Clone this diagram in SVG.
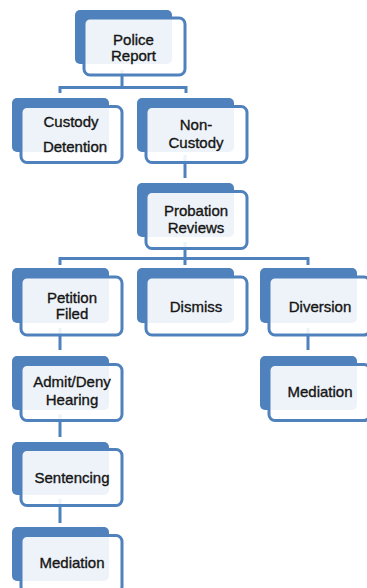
<svg xmlns="http://www.w3.org/2000/svg" width="367" height="588" viewBox="0 0 367 588">
<style>
.back{fill:#4f81bd}
.front{fill:#fff;fill-opacity:0.9;stroke:#4f81bd;stroke-width:3}
.conn{fill:none;stroke:#4f81bd;stroke-width:3}
text{font-family:"Liberation Sans",Arial,sans-serif;font-size:15px;fill:#151515;stroke:#151515;stroke-width:0.35;text-anchor:middle}
</style>
<rect width="367" height="588" fill="#fff"/>
<g id="connectors" class="conn">
<path d="M122,70 V87.5 M60,87.5 H187 M60,86 V93 M186,86 V93"/>
<path d="M185,155 V178"/>
<path d="M185,242 V258.5 M59,258.5 H309 M60,257 V265 M185,257 V265 M308,257 V265"/>
<path d="M60,328 V350"/>
<path d="M308,328 V350"/>
<path d="M60,414 V437"/>
<path d="M60,499 V523"/>
</g>
<g id="police-report">
<rect class="back" x="75" y="10" width="97" height="54" rx="5"/>
<rect class="front" x="84" y="18" width="101" height="57" rx="6"/>
<text x="133.5" y="45">Police</text><text x="133.5" y="61">Report</text>
</g>
<g id="custody-detention">
<rect class="back" x="12" y="98" width="97" height="54" rx="5"/>
<rect class="front" x="21" y="106.5" width="101" height="56" rx="6"/>
<text x="71" y="127">Custody</text><text x="75" y="152">Detention</text>
</g>
<g id="non-custody">
<rect class="back" x="137" y="98" width="97" height="54" rx="5"/>
<rect class="front" x="146" y="106.5" width="101" height="56" rx="6"/>
<text x="196" y="130">Non-</text><text x="196" y="148">Custody</text>
</g>
<g id="probation-reviews">
<rect class="back" x="137" y="183" width="97" height="54" rx="5"/>
<rect class="front" x="146" y="191.5" width="101" height="57" rx="6"/>
<text x="196" y="216">Probation</text><text x="196" y="233">Reviews</text>
</g>
<g id="petition-filed">
<rect class="back" x="12" y="268" width="97" height="55" rx="5"/>
<rect class="front" x="21" y="277" width="101" height="58" rx="6"/>
<text x="72" y="303">Petition</text><text x="72" y="319">Filed</text>
</g>
<g id="dismiss">
<rect class="back" x="137" y="268" width="97" height="55" rx="5"/>
<rect class="front" x="146" y="277" width="101" height="58" rx="6"/>
<text x="196" y="312">Dismiss</text>
</g>
<g id="diversion">
<rect class="back" x="260" y="268" width="97" height="55" rx="5"/>
<rect class="front" x="269" y="277" width="101" height="58" rx="6"/>
<text x="320" y="312">Diversion</text>
</g>
<g id="admit-deny-hearing">
<rect class="back" x="12" y="356" width="97" height="54" rx="5"/>
<rect class="front" x="21" y="364.5" width="101" height="56" rx="6"/>
<text x="72" y="387">Admit/Deny</text><text x="72" y="405">Hearing</text>
</g>
<g id="mediation-right">
<rect class="back" x="260" y="356" width="97" height="54" rx="5"/>
<rect class="front" x="269" y="364.5" width="101" height="56" rx="6"/>
<text x="320" y="397">Mediation</text>
</g>
<g id="sentencing">
<rect class="back" x="12" y="442" width="97" height="53" rx="5"/>
<rect class="front" x="21" y="449.5" width="101" height="56" rx="6"/>
<text x="72" y="483">Sentencing</text>
</g>
<g id="mediation-left">
<rect class="back" x="12" y="527" width="97" height="54" rx="5"/>
<rect class="front" x="21" y="535.5" width="101" height="57" rx="6"/>
<text x="72" y="568">Mediation</text>
</g>
</svg>
